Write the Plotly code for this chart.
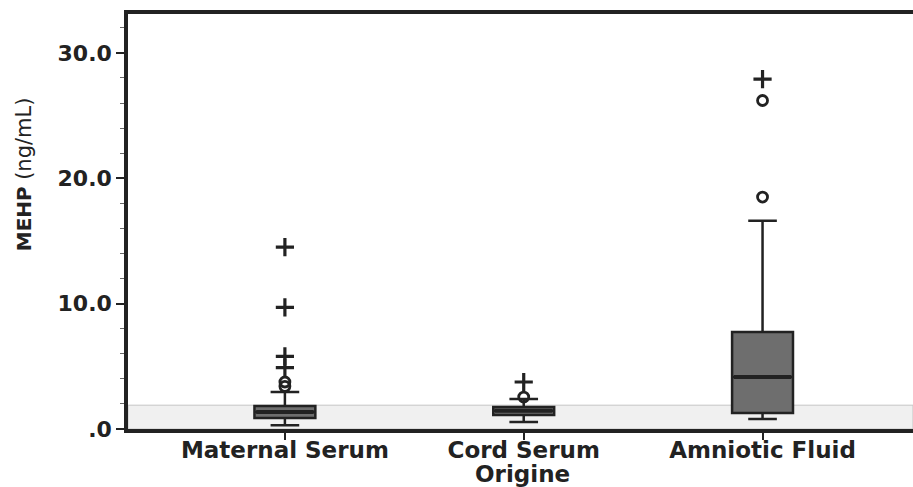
import plotly.graph_objects as go

categories = ["Maternal Serum", "Cord Serum", "Amniotic Fluid"]
q1 = [0.88, 1.12, 1.28]
median = [1.35, 1.45, 4.15]
q3 = [1.84, 1.76, 7.74]
lower_whisker = [0.3, 0.56, 0.8]
upper_whisker = [2.95, 2.4, 16.6]

# mild outliers (circles) and extreme outliers (crosses)
circle_cat = ["Maternal Serum", "Maternal Serum", "Cord Serum", "Amniotic Fluid", "Amniotic Fluid"]
circle_val = [3.4, 3.75, 2.55, 18.5, 26.2]
cross_cat = ["Maternal Serum", "Maternal Serum", "Maternal Serum", "Maternal Serum", "Cord Serum", "Amniotic Fluid"]
cross_val = [4.9, 5.8, 9.7, 14.5, 3.75, 27.9]

ytick_vals = [0, 10, 20, 30]
ytick_text = [".0", "10.0", "20.0", "30.0"]
detection_limit = 1.9

bold_font = "DejaVu Sans, Verdana, sans-serif"
ink = "#222222"

fig = go.Figure()
fig.add_shape(type="rect", xref="paper", yref="y", x0=0, x1=1, y0=0, y1=detection_limit,
              fillcolor="#f0f0f0", line=dict(color="#c4c4c4", width=1), layer="below")

fig.add_trace(go.Box(
    x=categories, q1=q1, median=median, q3=q3,
    lowerfence=lower_whisker, upperfence=upper_whisker,
    boxpoints=False, width=0.255, whiskerwidth=0.47,
    fillcolor="#6e6e6e", line=dict(color=ink, width=2.5),
    showlegend=False, hoverinfo="skip",
))
# thicker median bars
fig.add_trace(go.Scatter(
    x=categories, y=median, mode="markers",
    marker=dict(symbol="line-ew", size=41, color=ink, line=dict(width=4, color=ink)),
    showlegend=False, hoverinfo="skip",
))
fig.add_trace(go.Scatter(
    x=circle_cat, y=circle_val, mode="markers",
    marker=dict(symbol="circle-open", size=10, color=ink, line=dict(width=2.8)),
    showlegend=False,
))
fig.add_trace(go.Scatter(
    x=cross_cat, y=cross_val, mode="markers",
    marker=dict(symbol="cross-thin", size=13, color=ink, line=dict(width=3.2, color=ink)),
    showlegend=False,
))

fig.update_layout(
    width=913, height=487,
    margin=dict(l=128, r=0, t=14, b=58),
    paper_bgcolor="white", plot_bgcolor="white",
    font=dict(family=bold_font, color=ink),
)
fig.update_xaxes(
    type="category", range=[-0.657, 2.63], automargin=False,
    showline=True, linecolor=ink, linewidth=3.5, mirror=True,
    ticks="outside", ticklen=7, tickwidth=1.5, tickcolor=ink,
    ticklabelstandoff=-9,
    tickfont=dict(size=23, family=bold_font, weight="bold", color=ink),
    showgrid=False, zeroline=False,
)
fig.update_yaxes(
    range=[0, 33.1], automargin=False,
    tickvals=ytick_vals, ticktext=ytick_text,
    showline=True, linecolor=ink, linewidth=3.5, mirror=False,
    ticks="outside", ticklen=8, tickwidth=1.5, tickcolor=ink,
    minor=dict(dtick=2, ticks="outside", ticklen=4, tickcolor="#666666", tickwidth=1),
    tickfont=dict(size=22, family=bold_font, weight="bold", color=ink),
    showgrid=False, zeroline=False,
)

fig.add_annotation(
    text="Origine", xref="paper", yref="paper", x=0.503, y=0, yshift=-45,
    xanchor="center", yanchor="middle", showarrow=False,
    font=dict(size=23, family=bold_font, weight="bold", color=ink),
)
fig.add_annotation(
    text="<b>MEHP</b> <span style='font-size:21px;font-weight:normal'>(ng/mL)</span>",
    xref="paper", yref="paper", x=0, xshift=-104, y=0.614,
    xanchor="center", yanchor="middle", textangle=-90, showarrow=False,
    font=dict(size=20, family=bold_font, color=ink),
)

fig.write_html(
    "out.html",
    config={"displayModeBar": False},
    post_script="document.body.style.margin='0';document.body.style.overflow='hidden';",
)
